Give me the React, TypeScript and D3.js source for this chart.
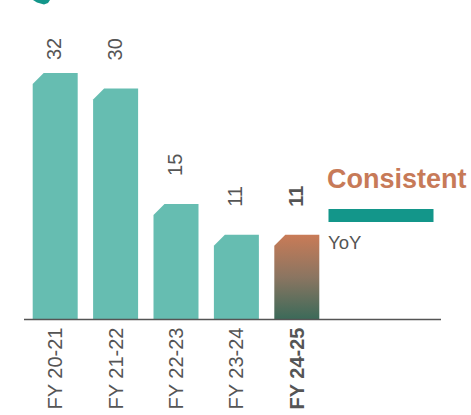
import React from 'react';
import * as d3 from 'd3';

const categories = ['FY 20-21', 'FY 21-22', 'FY 22-23', 'FY 23-24', 'FY 24-25'];
const values = [32, 30, 15, 11, 11];
const highlighted = ['FY 24-25'];
const legendTitle = 'Consistent';
const legendLabel = 'YoY';

const W = 471;
const H = 415;
const baseY = 319.5;
const chamfer = 11;
const labelGap = 28;
const labelTop = 60;

const teal = '#66bdb1';
const dark = '#13968a';
const orange = '#c77a58';
const grey = '#555555';
const font = '"Liberation Sans", Arial, sans-serif';

export default function App() {
  const x = d3.scaleBand<string>()
    .domain(categories)
    .range([32.7, 319.3])
    .paddingInner(0.255)
    .paddingOuter(0);

  const y = d3.scaleLinear().domain([0, 32]).range([baseY, 73]);

  const barPath = (cat: string, v: number) => {
    const x0 = x(cat)!;
    const x1 = x0 + x.bandwidth();
    const top = y(v);
    const p = d3.path();
    p.moveTo(x0, baseY);
    p.lineTo(x0, top + chamfer);
    p.lineTo(x0 + chamfer, top);
    p.lineTo(x1, top);
    p.lineTo(x1, baseY);
    p.closePath();
    return p.toString();
  };

  return (
    <svg width={W} height={H} style={{ position: 'absolute', left: 0, top: 0, background: '#fff' }}>
      <defs>
        <linearGradient id="hl" x1="0" y1="0" x2="0" y2="1">
          <stop offset="0%" stopColor="#c97b57" />
          <stop offset="50%" stopColor="#8b7561" />
          <stop offset="100%" stopColor="#3b6a59" />
        </linearGradient>
      </defs>

      {/* cropped marker at top */}
      <polygon points="33,0 50,0 48,3 44,4.5 37,2.5" fill={dark} />

      {categories.map((c, i) => {
        const hl = highlighted.includes(c);
        const cx = x(c)! + x.bandwidth() / 2;
        // labels sit above the bar, but never above labelTop
        const ly = Math.max(y(values[i]) - labelGap, labelTop);
        return (
          <g key={c}>
            <path d={barPath(c, values[i])} fill={hl ? 'url(#hl)' : teal} />
            <text
              transform={`translate(${cx - 1},${ly}) rotate(-90)`}
              dy="0.35em"
              fontFamily={font}
              fontSize={20}
              fontWeight={hl ? 'bold' : 'normal'}
              fill={grey}
            >
              {values[i]}
            </text>
            <text
              transform={`translate(${cx},${baseY + 8}) rotate(-90)`}
              dy="0.35em"
              textAnchor="end"
              fontFamily={font}
              fontSize={20}
              fontWeight={hl ? 'bold' : 'normal'}
              fill={grey}
            >
              {c}
            </text>
          </g>
        );
      })}

      <line x1={24} x2={441} y1={baseY} y2={baseY} stroke={grey} strokeWidth={1.5} />

      <text x={327} y={188} fontFamily={font} fontSize={27} fontWeight="bold" fill={orange}>
        {legendTitle}
      </text>
      <rect x={328.5} y={209} width={105} height={13} fill={dark} />
      <text x={328} y={248.5} fontFamily={font} fontSize={18.5} fill={grey}>
        {legendLabel}
      </text>
    </svg>
  );
}
